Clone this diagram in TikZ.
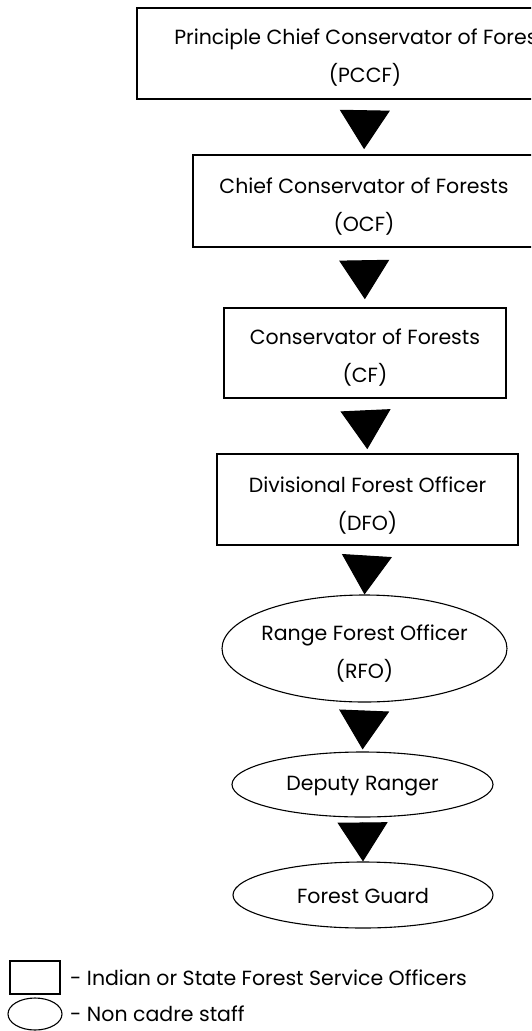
\documentclass[tikz,border=0pt]{standalone}
\usepackage{fontspec}
\setmainfont{Poppins}
\usetikzlibrary{shapes.geometric,arrows.meta}
\tikzset{
  txt/.style={font=\fontsize{20.5}{38}\selectfont, align=center, inner sep=0pt},
  rankbox/.style={draw=black, line width=1.6pt, rectangle, inner sep=0pt},
  rankoval/.style={draw=black, line width=1.1pt, ellipse, inner sep=0pt},
  down/.style={-{Triangle[length=39pt,width=50pt]}, line width=1pt},
  legtxt/.style={font=\fontsize{20.5}{24}\selectfont, anchor=west, inner sep=0pt}
}
\begin{document}
\begin{tikzpicture}[x=1pt,y=-1pt]
\useasboundingbox (0,0) rectangle (531,1031);
\clip (0,0) rectangle (531,1031);
\node[rankbox, minimum width=456pt, minimum height=91pt,
  label={[txt, yshift=-4pt]center:Principle Chief Conservator of Forests\\(PCCF)}] (pccf) at (365,53.5) {};
\node[rankbox, minimum width=342pt, minimum height=92pt,
  label={[txt, yshift=-6pt]center:Chief Conservator of Forests\\(OCF)}] (ccf) at (364,201) {};
\node[rankbox, minimum width=282pt, minimum height=90pt,
  label={[txt, yshift=-5pt]center:Conservator of Forests\\(CF)}] (cf) at (365,353) {};
\node[rankbox, minimum width=301pt, minimum height=91pt,
  label={[txt, yshift=-6pt]center:Divisional Forest Officer\\(DFO)}] (dfo) at (367.5,499.5) {};
\node[rankoval, minimum width=285pt, minimum height=107pt,
  label={[txt, yshift=-5pt]center:Range Forest Officer\\(RFO)}] (rfo) at (364.5,648.5) {};
\node[rankoval, minimum width=261pt, minimum height=65pt,
  label={[txt, yshift=-2pt]center:Deputy Ranger}] (dr) at (362.5,784.5) {};
\node[rankoval, minimum width=260pt, minimum height=66pt,
  label={[txt, yshift=-1pt]center:Forest Guard}] (fg) at (363,895) {};

\draw[down, shorten <=14pt, shorten >=5pt] (pccf.south) -- (ccf.north);
\draw[down, shorten <=15pt, shorten >=8pt] (ccf.south) -- (cf.north);
\draw[down, shorten <=13pt, shorten >=4pt] (cf.south) -- (dfo.north);
\draw[down, shorten <=10pt, shorten >=0pt] (dfo.south) -- (rfo.north);
\draw[down, shorten <=8pt, shorten >=2pt] (rfo.south) -- (dr.north);
\draw[down, shorten <=7pt, shorten >=0pt] (dr.south) -- (fg.north);

\node[rankbox, minimum width=50pt, minimum height=33pt] (lbox) at (35,977.5) {};
\node[rankoval, minimum width=54pt, minimum height=32pt] (loval) at (35,1014) {};
\node[legtxt] (lboxt) at (70,978) {- Indian or State Forest Service Officers};
\node[legtxt] (lovalt) at (70,1014) {- Non cadre staff};
\end{tikzpicture}
\end{document}
